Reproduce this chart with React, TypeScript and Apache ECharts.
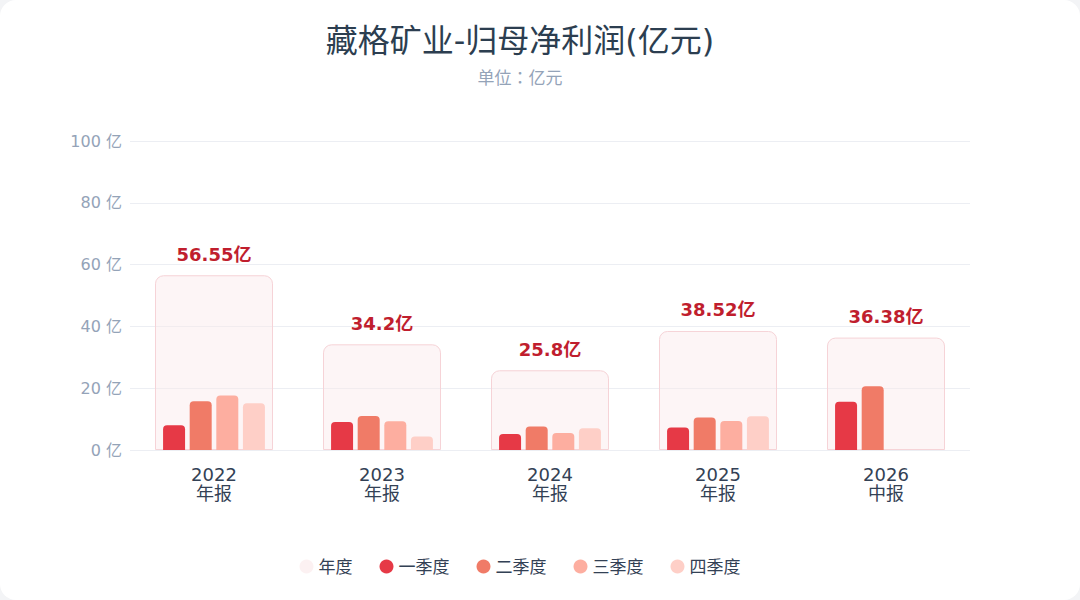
import React, { useEffect, useRef } from "react";
import * as echarts from "echarts";

const categories = ["2022\n年报", "2023\n年报", "2024\n年报", "2025\n年报", "2026\n中报"];
const annualValues = [56.55, 34.2, 25.8, 38.52, 36.38];
const q1Values = [8.0, 9.1, 5.2, 7.3, 15.6];
const q2Values = [15.8, 11.0, 7.6, 10.5, 20.6];
const q3Values: (number | null)[] = [17.6, 9.3, 5.5, 9.4, null];
const q4Values: (number | null)[] = [15.1, 4.4, 7.0, 10.9, null];
const seriesNames = ["年度", "一季度", "二季度", "三季度", "四季度"];
const quarterColors = ["#e63946", "#f07b67", "#fdaea0", "#fecfc7"];

const FONT = "'DejaVu Sans', 'Noto Sans CJK SC', sans-serif";

export default function App() {
  const ref = useRef<HTMLDivElement>(null);

  useEffect(() => {
    document.body.style.margin = "0";
    document.body.style.background = "#f3f4f6";
    if (!ref.current) return;
    const chart = echarts.init(ref.current, undefined, { renderer: "svg" });
    const quarterData = [q1Values, q2Values, q3Values, q4Values];
    const quarterSeries = quarterData.map((d, i) => ({
      name: seriesNames[i + 1],
      type: "bar" as const,
      xAxisIndex: 1,
      yAxisIndex: 0,
      data: d,
      barWidth: 22,
      barGap: "21%",
      itemStyle: { color: quarterColors[i], borderRadius: [4, 4, 0, 0] },
      z: 3,
    }));
    chart.setOption({
      animation: false,
      textStyle: { fontFamily: FONT },
      title: [
        {
          text: "藏格矿业-归母净利润(亿元)",
          left: "center",
          top: 20,
          textStyle: { fontSize: 32, fontWeight: "normal", color: "#2c3e50", fontFamily: FONT },
        },
        {
          text: "单位：亿元",
          left: "center",
          top: 63,
          textStyle: { fontSize: 17, fontWeight: "normal", color: "#94a3b8", fontFamily: "'Noto Sans CJK JP', sans-serif" },
        },
      ],
      legend: {
        data: [
          { name: seriesNames[0], itemStyle: { color: "#fcf1f2", borderWidth: 0 } },
          ...seriesNames.slice(1),
        ],
        left: "center",
        top: 553,
        icon: "circle",
        itemWidth: 14,
        itemHeight: 14,
        itemGap: 27,
        textStyle: { fontSize: 17, color: "#334155", fontFamily: FONT },
      },
      grid: { left: 130, right: 70, top: 141, bottom: 150 },
      xAxis: [
        {
          type: "category",
          data: categories,
          axisLine: { show: false },
          axisTick: { show: false },
          axisLabel: { color: "#334155", fontSize: 18, lineHeight: 19, margin: 15, fontFamily: FONT },
        },
        {
          type: "category",
          data: categories,
          show: false,
        },
      ],
      yAxis: {
        type: "value",
        min: 0,
        max: 100,
        interval: 20,
        axisLine: { show: false },
        axisTick: { show: false },
        axisLabel: { formatter: "{value} 亿", color: "#94a3b8", fontSize: 16, margin: 8, fontFamily: FONT },
        splitLine: { lineStyle: { color: "#eceef3" } },
      },
      series: [
        {
          name: seriesNames[0],
          type: "bar",
          xAxisIndex: 0,
          data: annualValues,
          barWidth: 118,
          itemStyle: {
            color: "rgba(250,232,234,0.45)",
            borderColor: "#f6d3d7",
            borderWidth: 1,
            borderRadius: [8, 8, 0, 0],
          },
          label: {
            show: true,
            position: "top",
            distance: 12,
            formatter: (p: any) => p.value + "亿",
            color: "#c01e2e",
            fontSize: 18,
            fontWeight: "bold",
            fontFamily: FONT,
          },
          z: 2,
        },
        ...quarterSeries,
      ],
    });
    return () => chart.dispose();
  }, []);

  return (
    <div
      style={{
        width: 1080,
        height: 600,
        background: "#ffffff",
        borderRadius: 16,
        position: "relative",
        overflow: "hidden",
      }}
    >
      <div ref={ref} style={{ width: 1040, height: 600, position: "absolute", left: 0, top: 0 }} />
    </div>
  );
}
